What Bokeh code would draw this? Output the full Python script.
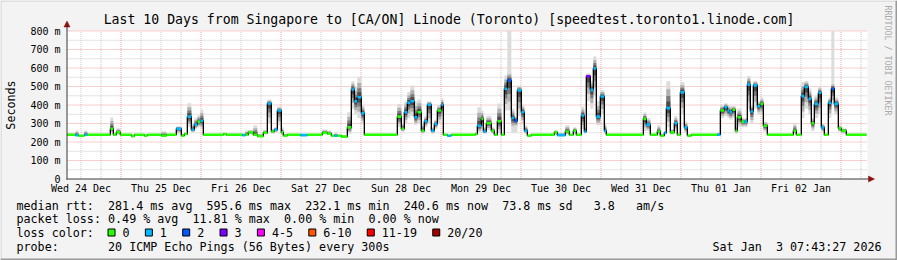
import math
from datetime import datetime
from bokeh.plotting import figure
from bokeh.models import Range1d, ColumnDataSource
from bokeh.core.properties import value
from bokeh.embed import file_html
from bokeh.resources import INLINE

# ---------------- data ----------------
title_text = "Last 10 Days from Singapore to [CA/ON] Linode (Toronto) [speedtest.toronto1.linode.com]"
y_axis_title = "Seconds"
watermark = "RRDTOOL / TOBI OETIKER"
day_labels = ["Wed 24 Dec", "Thu 25 Dec", "Fri 26 Dec", "Sat 27 Dec", "Sun 28 Dec",
              "Mon 29 Dec", "Tue 30 Dec", "Wed 31 Dec", "Thu 01 Jan", "Fri 02 Jan"]
y_tick_values = [0, 100, 200, 300, 400, 500, 600, 700, 800]
y_tick_labels = ["0", "100 m", "200 m", "300 m", "400 m", "500 m", "600 m", "700 m", "800 m"]

# hours since Wed 24 Dec 2025 00:00 at which each 'median' step starts
seg_hours = [7.9, 10.3, 11.2, 13.0, 13.9, 20.8, 21.7, 22.6, 23.8, 27.1, 28.0, 31.0, 31.9, 36.1, 37.6,
             40.6, 42.1, 43.0, 43.9, 45.1, 46.0, 46.9, 47.8, 48.7, 54.7, 55.6, 60.4, 61.3, 62.2, 63.7,
             64.9, 66.7, 67.9, 69.1, 70.0, 70.9, 72.1, 72.7, 73.9, 77.8, 79.9, 84.4, 85.9, 87.1, 88.0,
             88.9, 90.1, 91.9, 93.1, 94.0, 94.9, 96.1, 97.0, 106.9, 108.1, 109.0, 109.9, 110.8, 112.0,
             112.9, 114.1, 115.0, 115.9, 117.1, 118.0, 118.9, 120.1, 120.7, 121.9, 123.1, 130.3, 130.9,
             132.1, 132.7, 133.6, 135.1, 136.0, 136.9, 138.1, 139.0, 139.9, 141.1, 142.0, 142.9, 144.1,
             145.0, 145.9, 147.1, 153.1, 154.0, 154.9, 157.3, 158.5, 159.7, 160.6, 162.1, 163.0, 163.6,
             164.8, 165.7, 166.6, 167.8, 169.0, 169.6, 180.7, 181.6, 182.8, 184.9, 185.8, 187.0, 187.6,
             188.8, 190.0, 190.9, 191.8, 193.0, 193.9, 195.1, 202.9, 203.8, 205.0, 205.9, 206.5, 207.4,
             208.3, 208.9, 210.1, 211.0, 211.9, 212.8, 213.7, 214.9, 215.8, 216.7, 217.9, 225.7, 226.6,
             228.1, 229.0, 230.2, 231.1, 232.0, 233.2, 234.1, 235.0, 236.2, 237.1, 238.0, 239.2, 240.1,
             241.6]
seg_end_hour = 247.6
# median rtt (ms)
seg_median = [239, 237, 234, 239, 239, 272, 239, 252, 239, 232, 239, 234, 239, 234, 239,
              272, 234, 243, 337, 266, 294, 310, 315, 239, 243, 239, 237, 239, 252, 239,
              232, 250, 408, 257, 266, 370, 252, 234, 239, 237, 239, 250, 245, 234, 234,
              234, 229, 279, 484, 420, 442, 355, 239, 337, 272, 361, 412, 420, 334,
              361, 261, 312, 401, 261, 297, 370, 401, 239, 234, 239, 243, 288,
              325, 257, 301, 261, 239, 312, 239, 488, 533, 330, 316, 479, 361,
              261, 234, 239, 239, 252, 237, 257, 239, 261, 239, 343, 257, 555,
              482, 597, 337, 446, 261, 239, 325, 294, 239, 257, 234, 250, 383,
              252, 301, 239, 468, 279, 234, 239, 239, 370, 388, 370, 361, 374,
              261, 334, 310, 310, 510, 365, 506, 393, 406, 288, 239, 261, 239,
              448, 497, 433, 301, 406, 466, 279, 239, 412, 488, 406, 274, 261,
              239]
# lost pings (of 20) per step
seg_loss = [0, 1, 0, 1, 0, 0, 0, 0, 0, 0, 0, 0, 0, 0, 0,
            1, 0, 0, 1, 1, 1, 0, 1, 0, 0, 0, 1, 0, 0, 0,
            0, 0, 1, 0, 1, 1, 0, 0, 0, 1, 0, 0, 0, 0, 1,
            0, 0, 0, 1, 1, 1, 1, 0, 0, 0, 1, 1, 1, 1,
            0, 0, 1, 1, 1, 1, 0, 1, 0, 1, 0, 0, 1,
            0, 1, 0, 0, 0, 0, 0, 1, 2, 1, 2, 1, 1,
            1, 0, 0, 0, 0, 1, 0, 0, 0, 0, 1, 1, 3,
            1, 1, 1, 1, 1, 0, 0, 1, 0, 0, 0, 1, 1,
            0, 1, 0, 1, 1, 0, 0, 1, 0, 1, 1, 1, 0,
            0, 0, 0, 1, 1, 1, 1, 1, 0, 0, 0, 0, 0,
            1, 1, 1, 0, 1, 1, 1, 0, 1, 2, 1, 0, 0,
            0]
# smoke (ping spread) bottom / top (ms)
smoke_lo = [239, 235, 234, 237, 239, 250, 239, 240, 239, 232, 239, 234, 239, 234, 239,
            245, 230, 238, 280, 250, 270, 280, 270, 239, 240, 239, 235, 239, 242, 235,
            230, 240, 300, 245, 250, 290, 240, 232, 239, 235, 239, 240, 240, 232, 232,
            232, 227, 245, 380, 350, 330, 300, 239, 280, 255, 300, 330, 340, 290,
            300, 245, 280, 300, 245, 270, 300, 340, 239, 232, 239, 240, 250,
            270, 245, 265, 245, 239, 250, 239, 370, 370, 270, 280, 340, 300,
            245, 232, 239, 239, 240, 235, 240, 239, 245, 239, 270, 245, 420,
            380, 450, 290, 350, 245, 239, 260, 260, 239, 240, 232, 240, 280,
            240, 260, 239, 350, 250, 232, 239, 237, 330, 340, 330, 320, 330,
            245, 280, 280, 280, 380, 300, 380, 350, 350, 255, 239, 245, 239,
            330, 380, 350, 260, 330, 350, 255, 239, 330, 400, 350, 255, 245,
            239]
smoke_hi = [246, 262, 240, 262, 243, 332, 245, 275, 242, 240, 242, 240, 242, 258, 244,
            285, 245, 250, 410, 300, 330, 345, 375, 242, 246, 246, 245, 262, 265, 290,
            245, 265, 430, 270, 280, 392, 280, 245, 243, 245, 243, 268, 262, 240, 250,
            240, 235, 361, 529, 500, 551, 400, 244, 406, 300, 420, 470, 506, 420,
            430, 300, 340, 420, 280, 320, 400, 435, 244, 240, 242, 246, 388,
            370, 280, 340, 280, 245, 408, 245, 560, 580, 380, 340, 505, 400,
            290, 240, 242, 246, 265, 250, 290, 245, 280, 245, 390, 280, 570,
            530, 664, 420, 480, 300, 242, 360, 330, 245, 290, 245, 260, 529,
            270, 340, 245, 524, 310, 240, 243, 250, 400, 410, 400, 395, 395,
            280, 380, 330, 330, 557, 400, 530, 420, 440, 310, 243, 300, 243,
            525, 530, 490, 330, 450, 500, 300, 244, 440, 520, 440, 290, 275,
            244]
# isolated slow pings (light smoke columns): start hour, end hour, bottom, top (ms)
outlier_start = [139.9, 141.1, 237.1]
outlier_end = [141.1, 142.9, 238.0]
outlier_lo = [560, 250, 520]
outlier_hi = [820, 300, 820]

loss_labels = ["0", "1", "2", "3", "4-5", "6-10", "11-19", "20/20"]
loss_colors = ["#26ff00", "#00b8ff", "#0059ff", "#7e00ff", "#ff00ff", "#ff5500", "#ff0000", "#a10000"]

legend_rtt = [("median rtt:", 0), ("281.4 ms avg", 13), ("595.6 ms max", 27), ("232.1 ms min", 41),
              ("240.6 ms now", 55), ("73.8 ms sd", 69), ("3.8", 82), ("am/s", 88)]
legend_loss = [("packet loss:", 0), ("0.49 % avg", 13), ("11.81 % max", 25), ("0.00 % min", 38),
               ("0.00 % now", 50)]
legend_loss_color = "loss color:"
legend_probe = [("probe:", 0), ("20 ICMP Echo Pings (56 Bytes) every 300s", 13)]
stamp_parts = ["Sat Jan", "3 07:43:27 2026"]

# ---------------- layout (canvas pixels) ----------------
W, H = 897, 260
FL, FR = 67.0, 867.0          # plot area left / right
FT, FB = 30.5, 178.5          # canvas y of 800 ms / 0 ms
T0_H, T1_H = 7.95, 247.95     # shown time span, hours after Wed 24 Dec 00:00
Y0, Y1 = 0.0, 800.0
FONT = value("DejaVu Sans Mono")
BASE_MS = (datetime(2025, 12, 24) - datetime(1970, 1, 1)).total_seconds() * 1000.0


def ms(h):
    return BASE_MS + h * 3600000.0


t0, t1 = ms(T0_H), ms(T1_H)
tpp = (t1 - t0) / (FR - FL)      # ms of time per pixel
vpp = (Y1 - Y0) / (FB - FT)      # rtt per pixel

p = figure(width=W, height=H, output_backend="svg", toolbar_location=None,
           x_axis_type=None, y_axis_type=None,
           x_range=Range1d(0, W), y_range=Range1d(H, 0),
           min_border=0, min_border_left=0, min_border_right=0, min_border_top=0, min_border_bottom=0,
           background_fill_color="#f3f3f3", border_fill_color="#f3f3f3", outline_line_color=None)
# the chart's own time and rtt scales, mapped onto the plot area of the canvas
p.extra_x_ranges = {"time": Range1d(t0 - FL * tpp, t1 + (W - FR) * tpp)}
p.extra_y_ranges = {"rtt": Range1d(Y0 - (H - FB) * vpp, Y1 + FT * vpp)}
TR = dict(x_range_name="time", y_range_name="rtt")

# canvas bevel + white plot area
p.quad(left=[0, 0, W - 2, 0], right=[1, W, W, W], top=[0, 0, 0, H - 2], bottom=[H, 1, H, H],
       fill_color=["#cbcbcb", "#cbcbcb", "#9a9a9a", "#9a9a9a"], line_color=None)
p.quad(left=[t0], right=[t1], bottom=[Y0], top=[Y1], fill_color="white", line_color=None, **TR)

# grid
GREY, RED = "#c8c8c8", "#f2a0a0"
six_h = [ms(h) for h in range(12, 248, 6) if h % 24 != 0]
midn = [ms(h) for h in range(24, 248, 24)]
p.segment(x0=six_h, x1=six_h, y0=Y0, y1=Y1, line_color=GREY, line_width=1, line_dash="1 1", **TR)
hg = list(range(50, 800, 100))
p.segment(x0=t0, x1=t1, y0=hg, y1=hg, line_color=GREY, line_width=1, line_dash="1 1", **TR)
p.segment(x0=midn, x1=midn, y0=Y0, y1=Y1, line_color=RED, line_width=1, line_dash="1 1", **TR)
rg = list(range(100, 801, 100))
p.segment(x0=t0, x1=t1, y0=rg, y1=rg, line_color=RED, line_width=1, line_dash="1 1", **TR)

# smoke
starts = [ms(h) for h in seg_hours]
ends = starts[1:] + [ms(seg_end_hour)]
p.quad(left=[ms(h) for h in outlier_start], right=[ms(h) for h in outlier_end],
       bottom=outlier_lo, top=[min(v, Y1) for v in outlier_hi],
       fill_color="#dcdcdc", line_color=None, **TR)
for f, c in zip([1.0, 0.7, 0.45, 0.25], ["#dcdcdc", "#b0b0b0", "#7c7c7c", "#4a4a4a"]):
    bot = [m - f * (m - lo) for m, lo in zip(seg_median, smoke_lo)]
    top = [min(Y1, m + f * (hi - m)) for m, hi in zip(seg_median, smoke_hi)]
    p.quad(left=starts, right=ends, bottom=bot, top=top, fill_color=c, line_color=None, **TR)

# median: black step line + loss coloured segments
lx, ly = [], []
for a, b, m in zip(starts, ends, seg_median):
    lx += [a, b]
    ly += [m, m]
p.line(lx, ly, line_color="black", line_width=1.3, **TR)
src = ColumnDataSource(dict(x0=starts, x1=ends, y=seg_median,
                            c=[loss_colors[l] for l in seg_loss]))
p.segment(x0="x0", y0="y", x1="x1", y1="y", line_color="c", line_width=2.6, source=src, **TR)

# axes with arrows
AX, ARR = "#3a3a3a", "#8b1010"
p.segment(x0=[FL - 0.5, FL - 1], x1=[FL - 0.5, 870], y0=[FB + 0.5, FB], y1=[25, FB],
          line_color=AX, line_width=1)
p.patches(xs=[[FL - 3.5, FL + 2.5, FL - 0.5], [868, 868, 874]],
          ys=[[26.5, 26.5, 20.5], [FB - 3, FB + 3, FB]],
          fill_color=ARR, line_color=ARR, line_width=0.5)

# tick labels (positioned by the chart scales)
noon_ticks = [ms(12 + 24 * i) for i in range(len(day_labels))]
p.text(x=noon_ticks, y=[188] * len(noon_ticks), text=day_labels, x_range_name="time",
       text_font=FONT, text_font_size=value("10px"), text_align="center",
       text_baseline="middle", text_color="black")
p.text(x=[FL - 7] * len(y_tick_values), y=y_tick_values, text=y_tick_labels, y_range_name="rtt",
       text_font=FONT, text_font_size=value("10px"), text_align="right",
       text_baseline="middle", text_color="black")


def lab(x, y, text, size="11.7px", align="left", angle=0.0, color="black"):
    p.text(x=[x], y=[y], text=[text], text_font=FONT, text_font_size=value(size),
           text_align=align, text_baseline="middle", angle=angle, text_color=color)


lab(W / 2, 19, title_text, size="13.2px", align="center")
lab(10, (FT + FB) / 2, y_axis_title, align="center", angle=math.pi / 2)
lab(887, 5, watermark, size="8.3px", angle=-math.pi / 2, color="#aaaaaa")

CW = 7.04
LX = 16
for txt, col in legend_rtt:
    lab(LX + col * CW, 205, txt)
for txt, col in legend_loss:
    lab(LX + col * CW, 218.5, txt)
lab(LX, 232.3, legend_loss_color)
bx = LX + 13 * CW - 0.5
box_l = []
for txt in loss_labels:
    box_l.append(bx)
    lab(bx + 15, 232.3, txt)
    bx = bx + 15 + len(txt) * CW + 15.3
p.quad(left=[b + 0.5 for b in box_l], right=[b + 7.5 for b in box_l],
       top=[228.5] * len(box_l), bottom=[235.5] * len(box_l),
       fill_color=loss_colors, line_color="black", line_width=1)
for txt, col in legend_probe:
    lab(LX + col * CW, 246, txt)
STAMP_R = 881
lab(STAMP_R - (len(stamp_parts[0]) + 2 + len(stamp_parts[1])) * CW, 246, stamp_parts[0])
lab(STAMP_R, 246, stamp_parts[1], align="right")

open("out.html", "w").write(file_html(p, INLINE))
